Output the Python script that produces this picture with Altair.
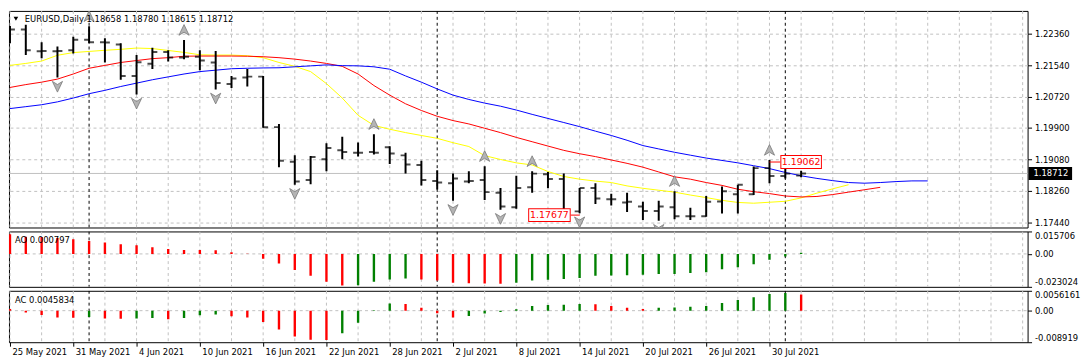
import altair as alt
import pandas as pd

# ---------------- data ----------------
bar_open = [1.22259, 1.22467, 1.21901, 1.21901, 1.21926, 1.22202, 1.22134, 1.22076, 1.21257, 1.21575,
            1.21884, 1.21740, 1.21758, 1.21608, 1.21049, 1.21214, 1.21239, 1.19921, 1.19019, 1.18543,
            1.19084, 1.19320, 1.19252, 1.19270, 1.19395, 1.19184, 1.18934, 1.18518, 1.18458, 1.18500,
            1.18543, 1.18207, 1.17831, 1.18350, 1.18693, 1.18568, 1.17723, 1.18332, 1.18042, 1.17957,
            1.17849, 1.17731, 1.17831, 1.17598, 1.17598, 1.17981, 1.18167, 1.18167, 1.18851, 1.18643,
            1.18658]
bar_high = [1.22560, 1.22593, 1.22134, 1.22026, 1.22277, 1.22552, 1.22242, 1.22109, 1.21801, 1.21991,
            1.21926, 1.22192, 1.21926, 1.21908, 1.21257, 1.21440, 1.21257, 1.20004, 1.19184, 1.19169,
            1.19503, 1.19671, 1.19520, 1.19736, 1.19420, 1.19252, 1.19044, 1.18793, 1.18708, 1.18768,
            1.18901, 1.18332, 1.18651, 1.18768, 1.18751, 1.18708, 1.18332, 1.18458, 1.18182, 1.18207,
            1.17974, 1.17999, 1.18250, 1.17816, 1.18124, 1.18375, 1.18418, 1.18894, 1.19062, 1.18919,
            1.18780]
bar_low = [1.22109, 1.21801, 1.21715, 1.21214, 1.21841, 1.22109, 1.21608, 1.21157, 1.20773, 1.21440,
           1.21633, 1.21690, 1.21407, 1.20906, 1.20939, 1.20981, 1.19904, 1.18876, 1.18418, 1.18433,
           1.18768, 1.19084, 1.19152, 1.19209, 1.18959, 1.18708, 1.18400, 1.18292, 1.17999, 1.18458,
           1.18017, 1.17766, 1.17791, 1.18207, 1.18325, 1.17690, 1.17677, 1.17916, 1.17874, 1.17706,
           1.17498, 1.17480, 1.17515, 1.17498, 1.17581, 1.17666, 1.17666, 1.18147, 1.18458, 1.18583,
           1.18615]
bar_close = [1.22467, 1.21926, 1.21908, 1.21905, 1.22202, 1.22134, 1.22130, 1.21257, 1.21615, 1.21884,
             1.21740, 1.21758, 1.21658, 1.21074, 1.21189, 1.21239, 1.19920, 1.19044, 1.18500, 1.19144,
             1.19377, 1.19270, 1.19250, 1.19252, 1.19234, 1.18944, 1.18543, 1.18475, 1.18583, 1.18518,
             1.18225, 1.17849, 1.18332, 1.18708, 1.18568, 1.17736, 1.18332, 1.18057, 1.18040, 1.17974,
             1.17731, 1.17849, 1.17598, 1.17595, 1.17974, 1.18250, 1.18418, 1.18851, 1.18643, 1.18708,
             1.18712]

jaw_blue = [1.20405, 1.20455, 1.20505, 1.20580, 1.20680, 1.20793, 1.20881, 1.20981, 1.21069, 1.21157,
            1.21232, 1.21307, 1.21370, 1.21407, 1.21445, 1.21457, 1.21465, 1.21470, 1.21495, 1.21520,
            1.21545, 1.21525, 1.21520, 1.21495, 1.21432, 1.21257, 1.21094, 1.20918, 1.20756, 1.20643,
            1.20548, 1.20467, 1.20367, 1.20254, 1.20147, 1.20041, 1.19934, 1.19816, 1.19703, 1.19578,
            1.19440, 1.19352, 1.19265, 1.19189, 1.19114, 1.19052, 1.18989, 1.18914, 1.18839, 1.18738,
            1.18651, 1.18583, 1.18525, 1.18475, 1.18458, 1.18475, 1.18500, 1.18518, 1.18518]
teeth_red = [1.20956, 1.21031, 1.21094, 1.21174, 1.21307, 1.21457, 1.21532, 1.21608, 1.21658, 1.21708,
             1.21733, 1.21771, 1.21776, 1.21776, 1.21776, 1.21771, 1.21758, 1.21733, 1.21695, 1.21645,
             1.21583, 1.21507, 1.21307, 1.21006, 1.20756, 1.20530, 1.20355, 1.20204, 1.20092, 1.20004,
             1.19891, 1.19778, 1.19653, 1.19540, 1.19427, 1.19315, 1.19227, 1.19152, 1.19064, 1.18976,
             1.18876, 1.18751, 1.18625, 1.18563, 1.18475, 1.18400, 1.18300, 1.18237, 1.18187, 1.18124,
             1.18099, 1.18112, 1.18162, 1.18225, 1.18287, 1.18350]
lips_yellow = [1.21532, 1.21583, 1.21645, 1.21796, 1.21866, 1.21896, 1.21926, 1.21951, 1.21984, 1.21971,
               1.21921, 1.21871, 1.21808, 1.21801, 1.21801, 1.21783, 1.21733, 1.21608, 1.21507, 1.21370,
               1.21056, 1.20680, 1.20229, 1.19966, 1.19866, 1.19778, 1.19703, 1.19628, 1.19515, 1.19415,
               1.19177, 1.19077, 1.18989, 1.18934, 1.18763, 1.18633, 1.18563, 1.18513, 1.18475, 1.18387,
               1.18325, 1.18275, 1.18225, 1.18149, 1.18082, 1.18011, 1.17956, 1.17936, 1.17961, 1.17986,
               1.18074, 1.18199, 1.18312, 1.18418]

fractal_up = [5, 11, 23, 30, 33, 42, 48]
fractal_down = [3, 8, 13, 18, 28, 31, 36, 41]

ao_values = [0.0138, 0.0120, 0.0118, 0.0112, 0.0103, 0.0090, 0.0080, 0.0068, 0.0060, 0.0046,
             0.0035, 0.0028, 0.0027, 0.0026, 0.0012, 0.0002, -0.0034, -0.0067, -0.0112, -0.0152,
             -0.0195, -0.0221, -0.0219, -0.0195, -0.0179, -0.0172, -0.0179, -0.0186, -0.0202, -0.0205,
             -0.0207, -0.0208, -0.0202, -0.0186, -0.0181, -0.0175, -0.0168, -0.0152, -0.0151, -0.0150,
             -0.0146, -0.0141, -0.0140, -0.0134, -0.0128, -0.0108, -0.0094, -0.0072, -0.0040, -0.0018,
             0.0008]
ao_colors = list("rrrrrrrrrrrrrrrrrrrrrrggggrrrrrrggggggggggggggggggg")
ac_values = [0.0005, -0.0005, -0.0012, -0.0019, -0.0020, -0.0018, -0.0022, -0.0023, -0.0022, -0.0021,
             -0.0024, -0.0021, -0.0013, -0.0011, -0.0016, -0.0019, -0.0032, -0.0053, -0.0073, -0.0082,
             -0.0083, -0.0064, -0.0034, 0.0001, 0.0020, 0.0019, 0.0008, -0.0007, -0.0019, -0.0015,
             -0.0008, -0.0004, 0.0004, 0.0013, 0.0016, 0.0017, 0.0019, 0.0018, 0.0013, 0.0008,
             0.0005, 0.0008, 0.0009, 0.0011, 0.0013, 0.0022, 0.0030, 0.0038, 0.0047, 0.0050,
             0.0046]
ac_colors = list("rrrrrgrrggrgggrrrrrrrggggrrrrggggggggrrrrgggggggggr")

price_ticks = [1.22360, 1.21540, 1.20720, 1.19900, 1.19080, 1.18260, 1.17440]
price_range = [1.17302, 1.22953]
ao_range = [-0.023024, 0.015706]
ac_range = [-0.008919, 0.0056161]
date_labels = ["25 May 2021", "31 May 2021", "4 Jun 2021", "10 Jun 2021", "16 Jun 2021",
               "22 Jun 2021", "28 Jun 2021", "2 Jul 2021", "8 Jul 2021", "14 Jul 2021",
               "20 Jul 2021", "26 Jul 2021", "30 Jul 2021"]
date_label_bars = [0, 4, 8, 12, 16, 20, 24, 28, 32, 36, 40, 44, 48]
grid_bars = list(range(0, 66, 2))
month_sep_bars = [5, 27, 49]
last_price = 1.18712
mark_left = {"i": [36], "p": [1.17677], "t": ["1.17677"]}
mark_right = {"i": [48], "p": [1.19062], "t": ["1.19062"]}
title_text = "EURUSD,Daily  1.18658 1.18780 1.18615 1.18712"
ao_text = "AO 0.000797"
ac_text = "AC 0.0045834"

# ---------------- layout ----------------
W = 1030
HM, HA, HC = 219, 56, 52
FONT = "DejaVu Sans"
GRID = "#c0c0c0"
xs = alt.Scale(domain=[-0.0625, -0.0625 + W / 16], nice=False, zero=False)


def X(axis=None):
    return alt.X("i:Q", scale=xs, axis=axis)


ohlc = pd.DataFrame({"i": range(len(bar_open)), "o": bar_open, "h": bar_high,
                     "l": bar_low, "c": bar_close})
grid_df = pd.DataFrame({"i": grid_bars})
sep_df = pd.DataFrame({"i": month_sep_bars})
one = pd.DataFrame({"a": [0]})

ym_scale = alt.Scale(domain=price_range, nice=False, zero=False)
ym_axis = alt.Axis(orient="right", values=price_ticks, format=".5f", title=None, grid=True,
                   gridColor=GRID, gridDash=[3, 3], tickSize=4, labelPadding=3, domain=False)


def YM(f):
    return alt.Y(f"{f}:Q", scale=ym_scale, axis=ym_axis)


def vgrid(h, axis=None):
    return alt.Chart(grid_df).mark_rule(color=GRID, strokeDash=[3, 3], clip=True).encode(
        x=X(axis), y=alt.value(0), y2=alt.value(h))


def seps(h, axis=None):
    return alt.Chart(sep_df).mark_rule(color="black", strokeDash=[3, 3], clip=True).encode(
        x=X(axis), y=alt.value(0), y2=alt.value(h))


price_line = alt.Chart(pd.DataFrame({"p": [last_price]})).mark_rule(color=GRID).encode(
    y=YM("p"), x=alt.value(0), x2=alt.value(W))


def ma_line(vals, color):
    df = pd.DataFrame({"i": range(len(vals)), "v": vals})
    return alt.Chart(df).mark_line(color=color, strokeWidth=1, clip=True).encode(x=X(), y=YM("v"))


hl = alt.Chart(ohlc).mark_rule(color="black", strokeWidth=2, clip=True).encode(
    x=X(), y=YM("l"), y2=alt.Y2("h:Q"))
op = alt.Chart(ohlc).mark_tick(orient="horizontal", size=5, thickness=2, xOffset=-2.5,
                               color="black", clip=True).encode(x=X(), y=YM("o"))
cl = alt.Chart(ohlc).mark_tick(orient="horizontal", size=5, thickness=2, xOffset=2.5,
                               color="black", clip=True).encode(x=X(), y=YM("c"))

UP = "M0,-1L0.9,0.9L0,0.35L-0.9,0.9Z"
DN = "M0,1L0.9,-0.9L0,-0.35L-0.9,-0.9Z"
fr_up = alt.Chart(ohlc.iloc[fractal_up]).mark_point(
    shape=UP, filled=True, size=130, color="#b4b4b4", stroke="#787878", strokeWidth=0.8,
    opacity=1, yOffset=-10, clip=True).encode(x=X(), y=YM("h"))
fr_dn = alt.Chart(ohlc.iloc[fractal_down]).mark_point(
    shape=DN, filled=True, size=130, color="#b4b4b4", stroke="#787878", strokeWidth=0.8,
    opacity=1, yOffset=9, clip=True).encode(x=X(), y=YM("l"))


def price_mark(d, side):
    df = pd.DataFrame(d)
    if side == "left":
        a, b, c0, c1 = -52, -9, -9, 0
    else:
        a, b, c0, c1 = 11, 53, 0, 11
    conn = alt.Chart(df).mark_rule(color="#ff0000", strokeWidth=1, yOffset=2,
                                   xOffset=c0, x2Offset=c1).encode(
        x=X(), x2=alt.X2("i:Q"), y=YM("p"))
    border = alt.Chart(df).mark_rule(color="#ff0000", strokeWidth=14, yOffset=2,
                                     xOffset=a, x2Offset=b).encode(x=X(), x2=alt.X2("i:Q"), y=YM("p"))
    fill = alt.Chart(df).mark_rule(color="white", strokeWidth=12, yOffset=2,
                                   xOffset=a + 1, x2Offset=b - 1).encode(x=X(), x2=alt.X2("i:Q"), y=YM("p"))
    txt = alt.Chart(df).mark_text(color="#ff0000", font=FONT, fontSize=9.5, yOffset=2,
                                  xOffset=(a + b) / 2, align="center", baseline="middle").encode(
        x=X(), y=YM("p"), text="t:N")
    return [conn, border, fill, txt]


cur_df = pd.DataFrame({"p": [last_price], "t": [f"{last_price:.5f}"]})
cur_box = alt.Chart(cur_df).mark_rule(color="black", strokeWidth=13).encode(
    x=alt.value(W + 1), x2=alt.value(W + 45), y=YM("p"))
cur_txt = alt.Chart(cur_df).mark_text(color="white", font=FONT, fontSize=8.5, align="left",
                                      baseline="middle").encode(x=alt.value(W + 6), y=YM("p"), text="t:N")

title_df = pd.DataFrame({"t": [title_text]})
title = alt.Chart(title_df).mark_text(font=FONT, fontSize=8.5, align="left", baseline="middle",
                                      color="black").encode(x=alt.value(16), y=alt.value(8), text="t:N")
tri = alt.Chart(one).mark_point(shape="triangle-down", filled=True, size=22, color="black",
                                opacity=1).encode(x=alt.value(7), y=alt.value(8))

main = alt.layer(
    vgrid(HM), seps(HM), price_line,
    ma_line(lips_yellow, "#ffff00"), ma_line(teeth_red, "#ff0000"), ma_line(jaw_blue, "#0000ff"),
    hl, op, cl, fr_up, fr_dn,
    *price_mark(mark_left, "left"), *price_mark(mark_right, "right"),
    cur_box, cur_txt, title, tri,
).properties(width=W, height=HM)

cscale = alt.Scale(domain=["r", "g"], range=["#ff0000", "#008000"])


def osc_panel(vals, cols, rng, h, label, xaxis=None):
    ticks = [rng[1], 0.0, rng[0]]
    yax = alt.Axis(orient="right", values=ticks, title=None, grid=False, tickSize=4,
                   labelPadding=3, domain=False, labelFlush=True,
                   labelExpr="datum.value == 0 ? '0.00' : '' + datum.value")
    ysc = alt.Scale(domain=rng, nice=False, zero=False)
    df = pd.DataFrame({"i": range(len(vals)), "v": vals, "c": cols, "z": 0.0})
    zero = alt.Chart(pd.DataFrame({"z": [0.0]})).mark_rule(color=GRID, strokeDash=[3, 3]).encode(
        y=alt.Y("z:Q", scale=ysc, axis=yax), x=alt.value(0), x2=alt.value(W))
    bars = alt.Chart(df).mark_rule(strokeWidth=2.4, clip=True).encode(
        x=X(xaxis), y=alt.Y("v:Q", scale=ysc, axis=yax), y2=alt.Y2("z:Q"),
        color=alt.Color("c:N", scale=cscale, legend=None))
    lab = alt.Chart(pd.DataFrame({"t": [label]})).mark_text(
        font=FONT, fontSize=8.5, align="left", baseline="middle", color="black").encode(
        x=alt.value(6), y=alt.value(9), text="t:N")
    return alt.layer(vgrid(h, xaxis), seps(h, xaxis), zero, bars, lab).properties(width=W, height=h)


arr = "[" + ",".join(f"'{d}'" for d in date_labels) + "]"
x_axis = alt.Axis(values=date_label_bars, labelExpr=f"{arr}[round(datum.value / 4)]",
                  tickSize=4, labelAlign="left", labelOffset=2, labelPadding=1,
                  labelBaseline="top", grid=False, domain=False, title=None)

ao = osc_panel(ao_values, ao_colors, ao_range, HA, ao_text)
ac = osc_panel(ac_values, ac_colors, ac_range, HC, ac_text, x_axis)

chart = alt.vconcat(main, ao, ac, spacing=2).properties(
    padding={"left": 0, "top": 0, "right": 0, "bottom": 0}, background="white"
).configure(padding={"left": 0, "top": 0, "right": 0, "bottom": 0}).configure_view(
    stroke="black", strokeWidth=1).configure_axis(
    labelFont=FONT, labelFontSize=8.5, labelColor="black", tickColor="black", tickWidth=1
)

chart.save("out.html", embed_options={"renderer": "svg", "actions": False})
